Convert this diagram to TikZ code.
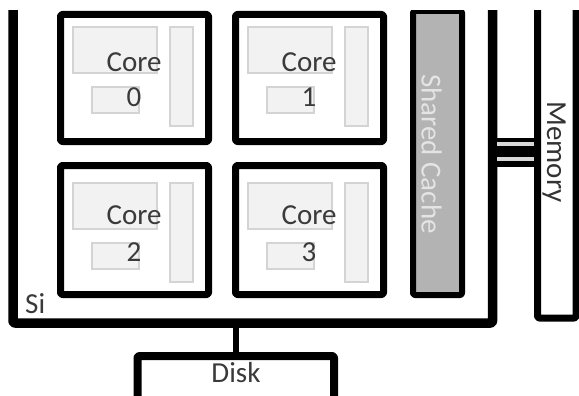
\documentclass[tikz,border=0pt]{standalone}
\usepackage{fontspec}
\setmainfont{Carlito}
\definecolor{labelgray}{HTML}{3A3A3A}
\definecolor{partfill}{HTML}{F2F2F2}
\definecolor{partedge}{HTML}{D4D4D4}
\definecolor{cachefill}{HTML}{B3B3B3}
\definecolor{cachetext}{HTML}{E4E4E4}
\definecolor{busgap}{HTML}{D8D8D8}
\tikzset{
  lbl/.style={font=\fontsize{29}{34}\selectfont, text=labelgray, inner sep=0pt},
  box/.style={draw=black, rectangle, inner sep=0pt, outer sep=0pt, rounded corners=2pt, line join=round},
  part/.style={draw=partedge, fill=partfill, line width=1.2pt},
}
\begin{document}
\begin{tikzpicture}[x=1pt, y=-1pt]
\useasboundingbox (0,0) rectangle (579,396);
\fill[white] (0,0) rectangle (579,396);
\clip (0,10.5) rectangle (579,396);

% chip outline (Si), memory and disk
\node[box, line width=9.5pt, minimum width=479.5pt, minimum height=373pt] (si) at (252.75,136.5) {};
\node[box, line width=7pt, minimum width=38.5pt, minimum height=368pt] (mem) at (556.75,134) {};
\node[box, line width=8pt, minimum width=196.5pt, minimum height=100pt] (disk) at (235.75,406) {};

% shared cache
\node[box, line width=6pt, fill=cachefill, minimum width=49pt, minimum height=284pt] (cache) at (437.5,153) {};
\node[lbl, text=cachetext, rotate=-90] (cachelbl) at (431.5,154) {Shared Cache};

% memory bus and disk link
\coordinate (bus) at (0,152.5);
\draw[line width=29pt] (si.east |- bus) -- (mem.west |- bus);
\draw[busgap, line width=3.5pt, shorten <=4.75pt, shorten >=3.5pt] (si.east |- 0,144) -- (mem.west |- 0,144);
\draw[busgap, line width=3.5pt, shorten <=4.75pt, shorten >=3.5pt] (si.east |- 0,159) -- (mem.west |- 0,159);
\draw[line width=6pt] (si.south -| disk.north) -- (disk.north);

% cores: left edge, top edge, number, box centre y, box height, row offsets
\foreach \L/\T/\n/\cy/\h/\a/\b/\c/\d in {57/11/0/78/127/0/0/0/0, 232/11/1/78/127/0/0/0/0, 57/162/2/230/129/5/5/2/4, 232/162/3/230/129/5/5/2/4}{
  \node[box, line width=7pt, minimum width=148pt, minimum height=\h pt] (core\n) at (\L+77.5, \cy) {};
  \fill[part, draw=partedge] (\L+16,\T+16+\a) rectangle (\L+100,\T+62+\a);
  \fill[part, draw=partedge] (\L+35,\T+76+\a) rectangle (\L+82,\T+102+\a);
  \fill[part, draw=partedge] (\L+113,\T+16+\a) rectangle (\L+136,\T+116+\b-1);
  \node[lbl] (corelbl\n) at (\L+77,\T+51+\c) {Core};
  \node[lbl] (corenum\n) at (\L+77,\T+86+\d) {\n};
}

% labels
\node[lbl, anchor=base west] (silbl) at (25,313) {Si};
\node[lbl] (disklbl) at (236,373) {Disk};
\node[lbl, text=black!80, rotate=-90] (memlbl) at (554,152) {Memory};
\end{tikzpicture}
\end{document}
